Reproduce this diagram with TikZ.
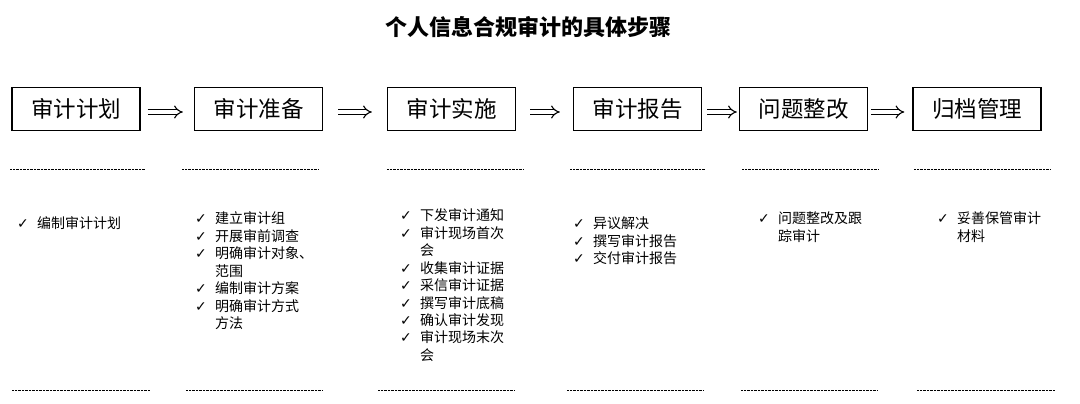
\documentclass[tikz,border=0pt]{standalone}
\usepackage{fontspec}
\usetikzlibrary{arrows.meta,calc}
\newfontfamily\cjk{Noto Sans CJK SC}
\newfontfamily\sym{DejaVu Sans}
\newcommand{\ck}{\makebox[20pt][l]{\sym\fontsize{14}{14}\selectfont ✓}}
\newcommand{\ind}{\hspace*{20pt}}
\begin{document}
\begin{tikzpicture}[x=1pt,y=-1pt,
  stepbox/.style={draw, line width=1.3pt, minimum width=128pt, minimum height=43pt, inner sep=0pt, font=\cjk\fontsize{22.5}{22.5}\selectfont},
  flow/.style={double, double distance=3.4pt, line width=1.1pt, -{Implies}},
  sep/.style={line width=1pt, dash pattern=on 0.6pt off 0.8pt},
  items/.style={anchor=base west, inner sep=0pt, font=\cjk\fontsize{14}{17.5}\selectfont},
  title/.style={font=\cjk\bfseries\fontsize{22}{22}\selectfont}]
\useasboundingbox (0,0) rectangle (1080,404);
\fill[white] (0,0) rectangle (1080,404);

\node[title] (t) at (528,27) {个人信息合规审计的具体步骤};

\node[stepbox] (b1) at (76,109) {审计计划};
\node[stepbox] (b2) at (258.5,109) {审计准备};
\node[stepbox] (b3) at (451.5,109) {审计实施};
\node[stepbox] (b4) at (637.5,109) {审计报告};
\node[stepbox] (b5) at (803.5,109) {问题整改};
\node[stepbox] (b6) at (977,109) {归档管理};

\draw[flow] ($(b1.east)+(7,3)$) -- ($(b2.west)+(-11,3)$);
\draw[flow] ($(b2.east)+(15,3)$) -- ($(b3.west)+(-15,3)$);
\draw[flow] ($(b3.east)+(14,3)$) -- ($(b4.west)+(-13,3)$);
\draw[flow] ($(b4.east)+(5,3)$) -- ($(b5.west)+(-2,3)$);
\draw[flow] ($(b5.east)+(3,3)$) -- ($(b6.west)+(-8,3)$);

% dotted separators
\draw[sep] (10,169) -- (145,169);
\draw[sep] (182,169) -- (318,169);
\draw[sep] (387,169) -- (523,169);
\draw[sep] (570,169) -- (705,169);
\draw[sep] (742,169) -- (878,169);
\draw[sep] (914,169) -- (1050,169);

\draw[sep] (12,390) -- (150,390);
\draw[sep] (186,390) -- (322,390);
\draw[sep] (378,390) -- (515,390);
\draw[sep] (567,390) -- (704,390);
\draw[sep] (741,390) -- (878,390);
\draw[sep] (917,390) -- (1055,390);

\node[items] (l1) at (17,228) {\begin{tabular}[t]{@{}l@{}}\ck 编制审计计划\end{tabular}};
\node[items] (l2) at (195,223.5) {\begin{tabular}[t]{@{}l@{}}\ck 建立审计组\\ \ck 开展审前调查\\ \ck 明确审计对象、\\ \ind 范围\\ \ck 编制审计方案\\ \ck 明确审计方式\\ \ind 方法\end{tabular}};
\node[items] (l3) at (400,220.5) {\begin{tabular}[t]{@{}l@{}}\ck 下发审计通知\\ \ck 审计现场首次\\ \ind 会\\ \ck 收集审计证据\\ \ck 采信审计证据\\ \ck 撰写审计底稿\\ \ck 确认审计发现\\ \ck 审计现场末次\\ \ind 会\end{tabular}};
\node[items] (l4) at (573,228.5) {\begin{tabular}[t]{@{}l@{}}\ck 异议解决\\ \ck 撰写审计报告\\ \ck 交付审计报告\end{tabular}};
\node[items] (l5) at (758,223.5) {\begin{tabular}[t]{@{}l@{}}\ck 问题整改及跟\\ \ind 踪审计\end{tabular}};
\node[items] (l6) at (937,223.5) {\begin{tabular}[t]{@{}l@{}}\ck 妥善保管审计\\ \ind 材料\end{tabular}};
\end{tikzpicture}
\end{document}
